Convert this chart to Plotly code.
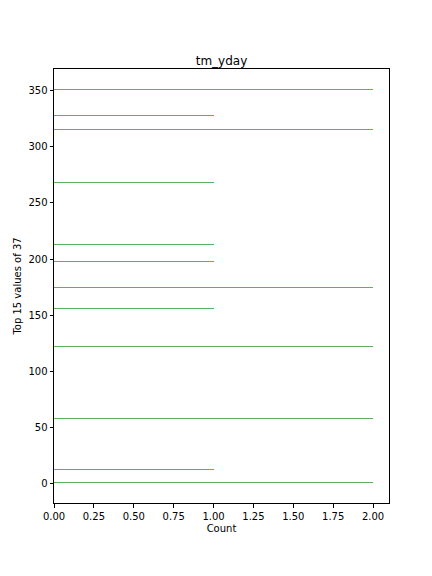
import plotly.graph_objects as go

day_values = [351, 328, 315, 268, 213, 198, 175, 156, 122, 58, 13, 1]
counts = [2, 1, 2, 1, 1, 1, 2, 1, 2, 2, 1, 2]
x_ticks = [0, 0.25, 0.5, 0.75, 1.0, 1.25, 1.5, 1.75, 2.0]
y_ticks = [0, 50, 100, 150, 200, 250, 300, 350]

fig = go.Figure(
    go.Bar(
        x=counts,
        y=day_values,
        orientation="h",
        width=0.9,
        marker=dict(color="rgba(92,176,92,0.99)", line=dict(width=0)),
    )
)

font = dict(family="DejaVu Sans", size=10, color="black")
fig.update_layout(
    width=432,
    height=576,
    margin=dict(l=54, r=43, t=69, b=73),
    paper_bgcolor="white",
    plot_bgcolor="white",
    font=font,
    showlegend=False,
    title=dict(
        text="tm_yday",
        x=0.5,
        xref="paper",
        y=1,
        yref="paper",
        yanchor="bottom",
        pad=dict(b=4),
        font=dict(family="DejaVu Sans", size=12, color="black"),
    ),
    bargap=0,
)
fig.update_xaxes(
    range=[0, 2.1],
    tickvals=x_ticks,
    tickformat=".2f",
    ticks="outside",
    ticklen=3.5,
    tickcolor="black",
    showline=True,
    linecolor="black",
    linewidth=1,
    mirror=True,
    showgrid=False,
    zeroline=False,
    title=dict(text="Count", standoff=4, font=font),
)
fig.update_yaxes(
    range=[-16.9, 368.9],
    tickvals=y_ticks,
    ticks="outside",
    ticklen=3.5,
    tickcolor="black",
    showline=True,
    linecolor="black",
    linewidth=1,
    mirror=True,
    showgrid=False,
    zeroline=False,
    title=dict(text="Top 15 values of 37", standoff=4, font=font),
)

fig.write_html("out.html")
